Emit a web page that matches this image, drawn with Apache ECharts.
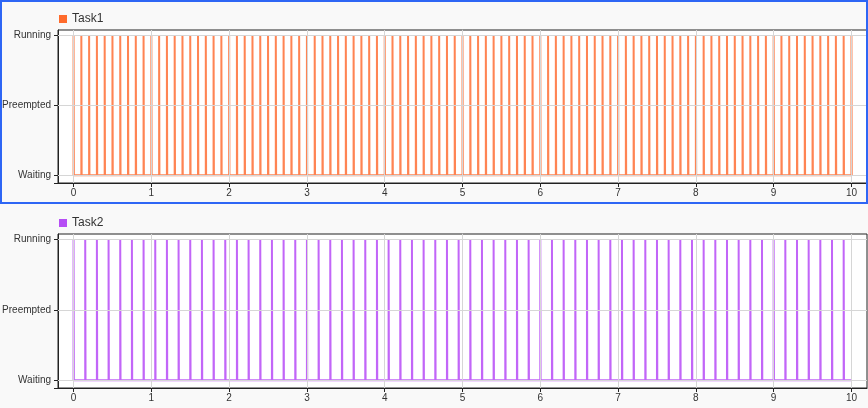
<!DOCTYPE html>
<html>
<head>
<meta charset="utf-8">
<script src="https://cdn.jsdelivr.net/npm/echarts@6/dist/echarts.min.js"></script>
<style>
html,body{margin:0;padding:0;background:#f9f9f9;}
#chart{width:868px;height:408px;}
</style>
</head>
<body>
<div id="chart"></div>
<script>
// ---- data ----
const seriesNames = ['Task1', 'Task2'];
const stateLabels = ['Waiting', 'Preempted', 'Running'];   // y values 0,1,2
const xTickValues = [0, 1, 2, 3, 4, 5, 6, 7, 8, 9, 10];
const timeEnd = 10;
const runDuration = 0.004;
const task1Starts = [0,0.1,0.2,0.3,0.4,0.5,0.6,0.7,0.8,0.9,
  1,1.1,1.2,1.3,1.4,1.5,1.6,1.7,1.8,1.9,
  2,2.1,2.2,2.3,2.4,2.5,2.6,2.7,2.8,2.9,
  3,3.1,3.2,3.3,3.4,3.5,3.6,3.7,3.8,3.9,
  4,4.1,4.2,4.3,4.4,4.5,4.6,4.7,4.8,4.9,
  5,5.1,5.2,5.3,5.4,5.5,5.6,5.7,5.8,5.9,
  6,6.1,6.2,6.3,6.4,6.5,6.6,6.7,6.8,6.9,
  7,7.1,7.2,7.3,7.4,7.5,7.6,7.7,7.8,7.9,
  8,8.1,8.2,8.3,8.4,8.5,8.6,8.7,8.8,8.9,
  9,9.1,9.2,9.3,9.4,9.5,9.6,9.7,9.8,9.9,10];
const task2Starts = [0,0.15,0.3,0.45,0.6,0.75,0.9,1.05,1.2,1.35,1.5,1.65,1.8,1.95,
  2.1,2.25,2.4,2.55,2.7,2.85,3,3.15,3.3,3.45,3.6,3.75,3.9,4.05,4.2,4.35,4.5,4.65,4.8,4.95,
  5.1,5.25,5.4,5.55,5.7,5.85,6,6.15,6.3,6.45,6.6,6.75,6.9,7.05,7.2,7.35,7.5,7.65,7.8,7.95,
  8.1,8.25,8.4,8.55,8.7,8.85,9,9.15,9.3,9.45,9.6,9.75,9.9];
const taskStarts = [task1Starts, task2Starts];

// ---- styles ----
const legendColors = ['#ff6b2c', '#b64ef5'];
const lineColors = ['#ff8453', '#c266f8'];
const FONT = "'Liberation Sans', Arial, sans-serif";

function buildPulses(starts) {
  const pts = [];
  starts.forEach(s => {
    pts.push([s, 0], [s, 2], [s + runDuration, 2], [s + runDuration, 0]);
  });
  const last = pts[pts.length - 1][0];
  if (last < timeEnd) pts.push([timeEnd, 0]);
  return pts;
}

const chart = echarts.init(document.getElementById('chart'), null, {renderer: 'canvas'});

const grids = [
  {left: 58, right: 1, top: 30, height: 153},
  {left: 58, right: 1, top: 234, height: 154}
];

const option = {
  backgroundColor: '#f9f9f9',
  animation: false,
  textStyle: {fontFamily: FONT},
  legend: seriesNames.map((n, i) => ({
    data: [n],
    left: 54,
    top: i === 0 ? 8 : 212,
    icon: 'rect',
    itemWidth: 8,
    itemHeight: 8,
    itemGap: 5,
    textStyle: {fontSize: 12, color: '#333', fontFamily: FONT},
    selectedMode: false
  })),
  grid: grids.map(g => Object.assign({
    show: true, backgroundColor: '#ffffff', borderColor: '#222', borderWidth: 1,
    containLabel: false, outerBoundsMode: 'none'
  }, g)),
  xAxis: [0, 1].map(i => ({
    type: 'value', gridIndex: i, min: -0.2, max: 10.2,
    axisLine: {show: true, onZero: false, lineStyle: {color: '#222', width: 1}},
    axisTick: {show: true, length: 4, lineStyle: {color: '#222'}, customValues: xTickValues},
    axisLabel: {show: true, color: '#333', fontSize: 10, margin: 5, fontFamily: FONT,
      customValues: xTickValues, showMinLabel: true, showMaxLabel: true},
    splitLine: {show: false}
  })),
  yAxis: [0, 1].map(i => ({
    type: 'value', gridIndex: i, min: -0.11, max: 2.075,
    axisLine: {show: true, onZero: false, lineStyle: {color: '#222', width: 1}},
    axisTick: {show: true, length: 4, lineStyle: {color: '#222'}, customValues: [-0.11, 0, 1, 2]},
    axisLabel: {show: true, color: '#333', fontSize: 10, margin: 7, fontFamily: FONT,
      customValues: [0, 1, 2], formatter: v => stateLabels[Math.round(v)]},
    splitLine: {show: false}
  })),
  series: [
    ...[0, 1].map(i => ({
      type: 'line', name: '_grid' + i, xAxisIndex: i, yAxisIndex: i,
      data: [], silent: true, z: 1,
      markLine: {
        silent: true, symbol: 'none', animation: false,
        label: {show: false},
        lineStyle: {color: '#d6d6d6', width: 1, type: 'solid'},
        emphasis: {disabled: true},
        data: xTickValues.map(v => ({xAxis: v})).concat([0, 1, 2].map(v => ({yAxis: v})))
      }
    })),
    ...seriesNames.map((n, i) => ({
      type: 'line', name: n, xAxisIndex: i, yAxisIndex: i,
      data: buildPulses(taskStarts[i]),
      showSymbol: false, symbol: 'none', z: 3,
      color: legendColors[i],
      itemStyle: {color: legendColors[i]},
      lineStyle: {color: lineColors[i], width: 2},
      emphasis: {disabled: true},
      silent: true
    }))
  ],
  graphic: [{
    type: 'rect', z: 100, silent: true,
    shape: {x: 1, y: 1, width: 866, height: 202},
    style: {fill: 'none', stroke: '#2e66f5', lineWidth: 2}
  }]
};
chart.setOption(option);
</script>
</body>
</html>
